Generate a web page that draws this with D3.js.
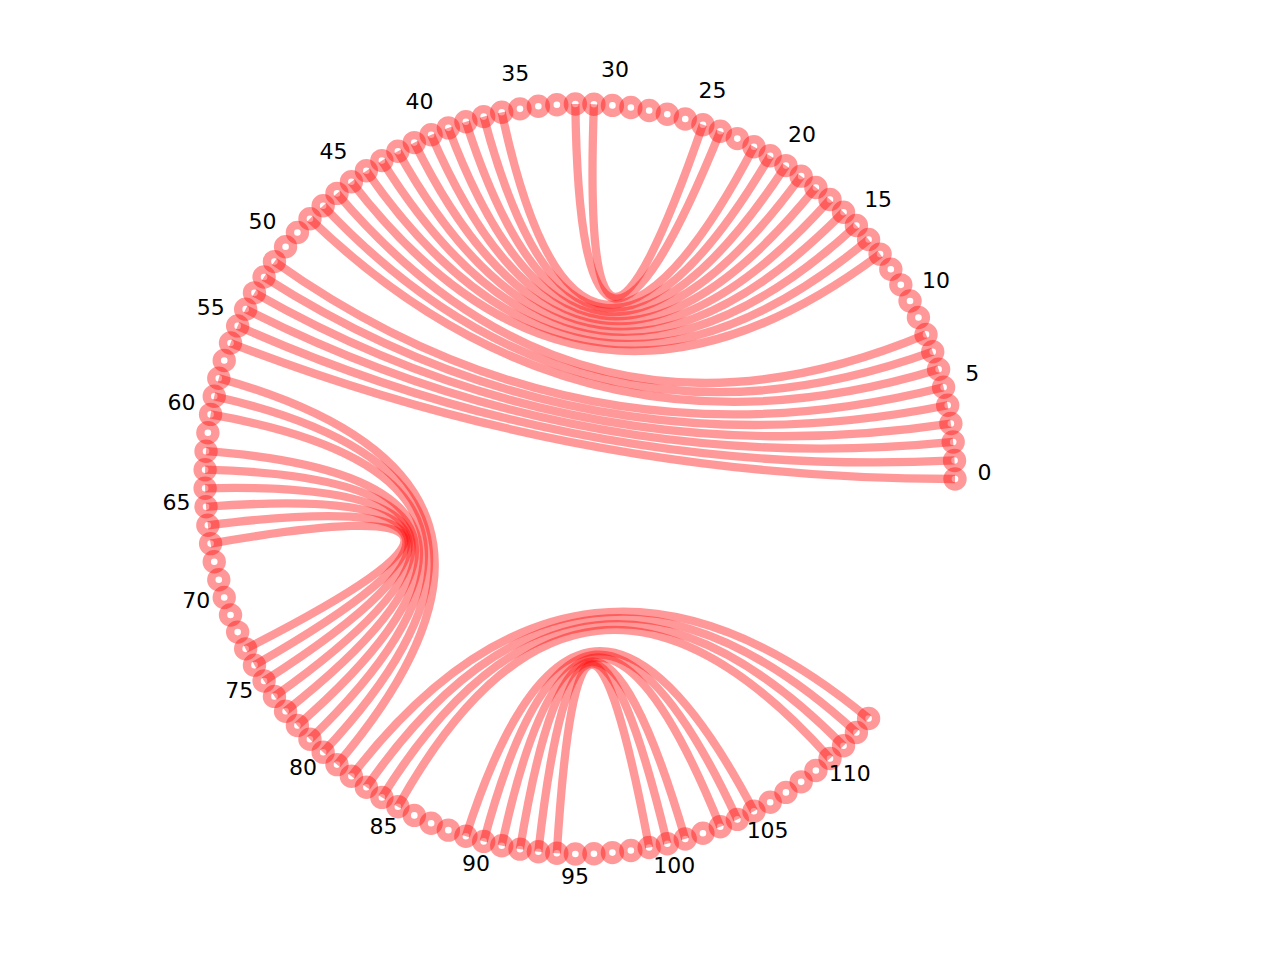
<!DOCTYPE html>
<html>
<head>
<meta charset="utf-8">
<script src="https://cdn.jsdelivr.net/npm/d3@7"></script>
<style>
  body { margin: 0; background: #fff; }
  #chart-container { width: 1280px; height: 960px; }
</style>
</head>
<body>
<div id="chart-container"></div>
<script>
// -------------------- DATA --------------------
// positions along the circle (0..113), the circle has 127 slots so a gap is left after 113
const nodeCount = 114;
const slotCount = 127;

// paired positions [i, j]
const pairs = [
  [0,56],[1,55],[2,54],[3,53],[4,52],[5,51],[6,48],[7,47],[8,46],
  [13,45],[14,44],[15,43],[16,42],[17,41],[18,40],[19,39],[20,38],[21,37],[22,36],
  [24,32],[25,31],
  [58,81],[59,80],[60,79],[62,78],[63,77],[64,76],[65,75],[66,74],[67,73],
  [82,113],[83,112],[84,111],[85,110],
  [89,105],[90,104],[91,103],[92,101],[93,100],[94,99]
];

const tickLabels = [0,5,10,15,20,25,30,35,40,45,50,55,60,65,70,75,80,85,90,95,100,105,110];

const lineColor = "red";

// -------------------- LAYOUT --------------------
const W = 1280, H = 960;
const cx = 580, cy = 479;
const radius = 375;
const labelRadius = 404.5;

d3.select("#chart-container").selectAll("*").remove();

const svg = d3.select("#chart-container")
  .append("svg")
  .attr("width", W)
  .attr("height", H);

const angle = d3.scaleLinear()
  .domain([0, slotCount])
  .range([0, 2 * Math.PI]);

const px = (i, r) => cx + r * Math.cos(angle(i));
const py = (i, r) => cy - r * Math.sin(angle(i));

// edges: quadratic curves bent through the centre
const edgePath = d => {
  const p = d3.path();
  p.moveTo(px(d[0], radius), py(d[0], radius));
  p.quadraticCurveTo(cx, cy, px(d[1], radius), py(d[1], radius));
  return p.toString();
};

svg.append("g")
  .selectAll("path")
  .data(pairs)
  .join("path")
  .attr("d", edgePath)
  .attr("fill", "none")
  .attr("stroke", lineColor)
  .attr("stroke-opacity", 0.4)
  .attr("stroke-width", 8.3);

// nodes: hollow rings
svg.append("g")
  .selectAll("circle")
  .data(d3.range(nodeCount))
  .join("circle")
  .attr("cx", i => px(i, radius))
  .attr("cy", i => py(i, radius))
  .attr("r", 7.5)
  .attr("fill", "none")
  .attr("stroke", lineColor)
  .attr("stroke-opacity", 0.4)
  .attr("stroke-width", 8.4);

// labels
svg.append("g")
  .selectAll("text")
  .data(tickLabels)
  .join("text")
  .attr("x", i => px(i, labelRadius))
  .attr("y", i => py(i, labelRadius) + 1)
  .attr("text-anchor", "middle")
  .attr("font-family", "DejaVu Sans")
  .attr("font-size", 22)
  .attr("fill", "#000")
  .text(d => d);
</script>
</body>
</html>
